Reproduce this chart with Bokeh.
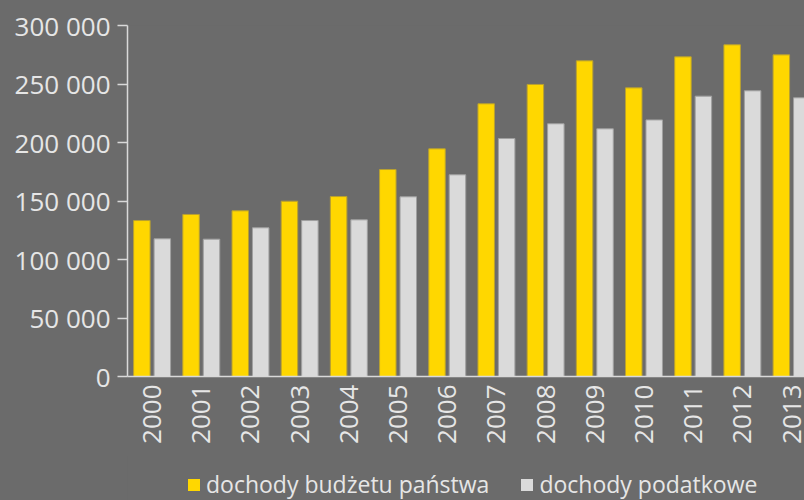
import math
from bokeh.plotting import figure
from bokeh.layouts import column
from bokeh.models import (Range1d, FixedTicker, Legend, LegendItem, ColumnDataSource)
from bokeh.embed import file_html
from bokeh.resources import INLINE
import numpy as np

years = ["2000", "2001", "2002", "2003", "2004", "2005", "2006",
         "2007", "2008", "2009", "2010", "2011", "2012", "2013"]
dochody_budzetu = [133300, 138500, 141600, 149800, 153800, 176900, 194600,
                   233100, 249600, 269800, 246700, 273200, 283500, 274900]
dochody_podatkowe = [117700, 117400, 127100, 133300, 133900, 153600, 172400,
                     203400, 216000, 211700, 219300, 239600, 244200, 238200]
y_ticks = [0, 50000, 100000, 150000, 200000, 250000, 300000]
y_tick_labels = ["0", "50 000", "100 000", "150 000", "200 000", "250 000", "300 000"]
series_names = ["dochody budżetu państwa", "dochody podatkowe"]

BG = "#6b6b6b"
TXT = "#e6e6e6"
YELLOW = "#ffd700"
GRAY = "#dadada"
YELLOW_EDGE = "#b8a030"
GRAY_EDGE = "#a0a0a0"
FONT = "Open Sans"

idx = np.arange(len(years))
src = ColumnDataSource(dict(
    x1=idx - 0.208, x2=idx + 0.208,
    a=dochody_budzetu, b=dochody_podatkowe,
))

p = figure(width=804, height=456, output_backend="svg", toolbar_location=None,
           x_range=Range1d(-0.5, 13.263), y_range=Range1d(0, 300000),
           min_border_top=25, min_border_left=127, min_border_right=0,
           min_border_bottom=80)
p.background_fill_alpha = 0
p.border_fill_color = BG
p.outline_line_color = None
p.grid.visible = False

p.vbar(x="x1", top="a", width=0.335, source=src, fill_color=YELLOW,
       line_color=YELLOW_EDGE, line_width=1)
p.vbar(x="x2", top="b", width=0.335, source=src, fill_color=GRAY,
       line_color=GRAY_EDGE, line_width=1)

# x axis
p.xaxis.ticker = FixedTicker(ticks=list(idx))
p.xaxis.major_label_overrides = {int(i): y for i, y in zip(idx, years)}
p.xaxis.major_label_orientation = math.pi / 2
p.xaxis.major_tick_line_color = None
p.xaxis.major_tick_out = 0
p.xaxis.major_tick_in = 0
p.xaxis.minor_tick_line_color = None
p.xaxis.axis_line_color = "#d9d9d9"
p.xaxis.axis_line_width = 1.5
p.xaxis.major_label_text_font = FONT
p.xaxis.major_label_text_font_size = "26px"
p.xaxis.major_label_text_color = TXT
p.xaxis.major_label_standoff = 8

# y axis
p.yaxis.ticker = FixedTicker(ticks=y_ticks)
p.yaxis.major_label_overrides = {t: l for t, l in zip(y_ticks, y_tick_labels)}
p.yaxis.minor_tick_line_color = None
p.yaxis.major_tick_in = 0
p.yaxis.major_tick_out = 10
p.yaxis.major_tick_line_color = "#d9d9d9"
p.yaxis.major_tick_line_width = 1.5
p.yaxis.axis_line_color = "#d9d9d9"
p.yaxis.axis_line_width = 1.5
p.yaxis.major_label_text_font = FONT
p.yaxis.major_label_text_font_size = "26px"
p.yaxis.major_label_text_color = TXT
p.yaxis.major_label_standoff = 7

# legend strip below the chart (its own bars sit outside its visible range)
lg = figure(width=804, height=44, output_backend="svg", toolbar_location=None,
            x_range=Range1d(-100, -99), y_range=Range1d(0, 1),
            x_axis_location=None, y_axis_location=None,
            min_border=0)
lg.background_fill_alpha = 0
lg.border_fill_color = BG
lg.outline_line_color = None
lg.grid.visible = False
k1 = lg.vbar(x="x1", top="a", width=0.335, source=src, fill_color=YELLOW,
             line_color=None)
k2 = lg.vbar(x="x2", top="b", width=0.335, source=src, fill_color=GRAY,
             line_color=None)
legend = Legend(items=[LegendItem(label=series_names[0], renderers=[k1]),
                       LegendItem(label=series_names[1], renderers=[k2])],
                orientation="horizontal", location=(59, 0),
                background_fill_alpha=0, border_line_color=None,
                padding=0, margin=0, spacing=30,
                glyph_width=15, glyph_height=15, label_standoff=5,
                label_text_font=FONT, label_text_font_size="23px",
                label_text_color=TXT)
lg.add_layout(legend, "center")

layout = column(p, lg, spacing=0, styles={"background-color": BG})
open("out.html", "w").write(file_html(layout, INLINE))
